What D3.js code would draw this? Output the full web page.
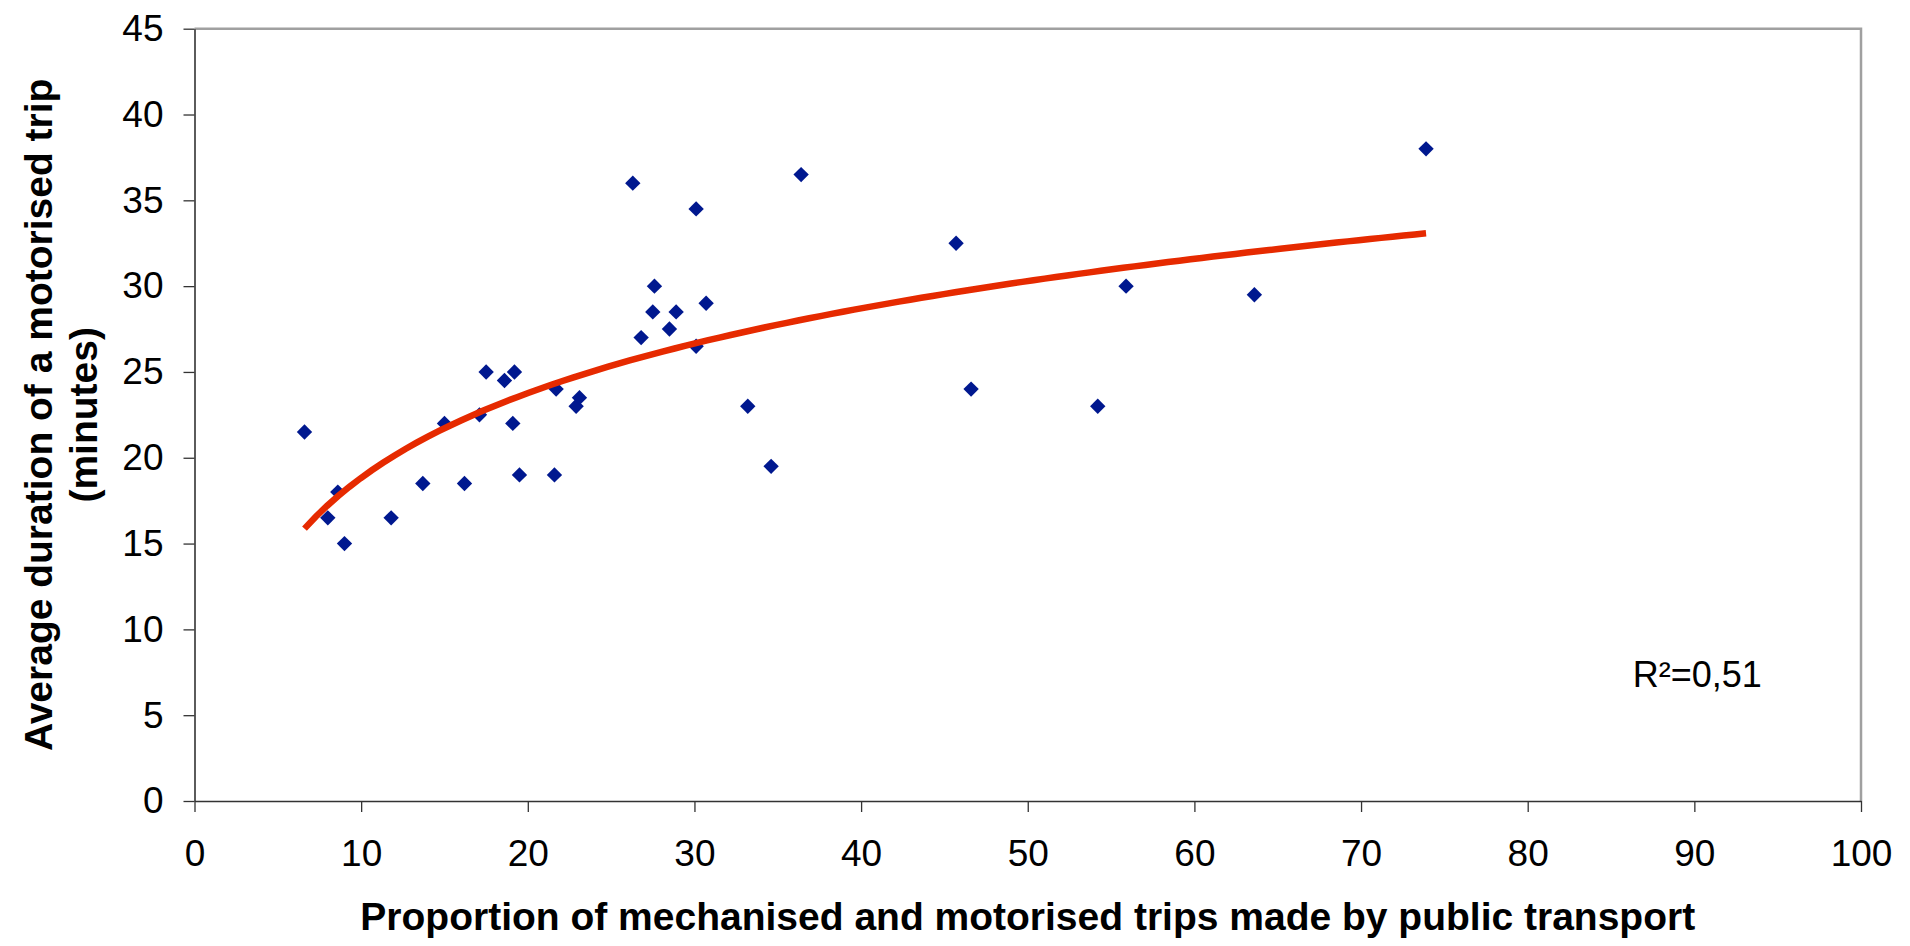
<!DOCTYPE html>
<html>
<head>
<meta charset="utf-8">
<script src="https://cdn.jsdelivr.net/npm/d3@7"></script>
<style>
  body { margin: 0; background: #fff; }
  svg text { font-family: "Liberation Sans", Arial, sans-serif; fill: #000; }
</style>
</head>
<body>
<div class="chart"></div>
<script>

// share of mechanised/motorised trips made by public transport (%)
var shareValues = [6.6, 8.0, 8.6, 9.0, 11.8, 13.7, 15.0, 16.2, 17.1, 17.5, 18.6, 19.1,
    19.2, 19.5, 21.6, 21.7, 22.9, 23.1, 26.3, 26.8, 27.5, 27.6, 28.5, 28.9,
    30.1, 30.1, 30.7, 33.2, 34.6, 36.4, 45.7, 46.6, 54.2, 55.9, 63.6, 73.9];
// average duration of a motorised trip (minutes)
var durationValues = [21.5, 16.5, 18, 15, 16.5, 18.5, 22, 18.5, 22.5, 25, 24.5, 22,
    25, 19, 19, 24, 23, 23.5, 36, 27, 28.5, 30, 27.5, 28.5,
    34.5, 26.5, 29, 23, 19.5, 36.5, 32.5, 24, 23, 30, 29.5, 38];

var xTicks = [0, 10, 20, 30, 40, 50, 60, 70, 80, 90, 100],
    yTicks = [0, 5, 10, 15, 20, 25, 30, 35, 40, 45];
var r2Label = "R²=0,51";

var width = 1910,
    height = 946,
    margins = { top: 28.7, right: 49, bottom: 145, left: 194.5 };

var xScale = d3.scaleLinear()
    .domain([0, 100])
    .range([margins.left, width - margins.right]);

var yScale = d3.scaleLinear()
    .domain([0, 45])
    .range([height - margins.bottom, margins.top]);

var svg = d3.select(".chart")
    .append("svg")
    .attr("width", width)
    .attr("height", height);

// grey frame on top and right
svg.append("path")
    .attr("d", "M" + xScale(0) + "," + yScale(45) + "H" + xScale(100) + "V" + yScale(0))
    .attr("fill", "none")
    .attr("stroke", "#a0a0a0")
    .attr("stroke-width", 2.5);

var yGuide = svg.append("g")
    .attr("transform", "translate(" + xScale(0) + ",0)")
    .call(d3.axisLeft(yScale).tickValues(yTicks).tickSize(11).tickPadding(20).tickSizeOuter(0));

var xGuide = svg.append("g")
    .attr("transform", "translate(0," + yScale(0) + ")")
    .call(d3.axisBottom(xScale).tickValues(xTicks).tickSize(11).tickPadding(28).tickSizeOuter(0));

[yGuide, xGuide].forEach(function (g) {
    g.select(".domain").attr("stroke", "#333").attr("stroke-width", 1.6);
    g.selectAll(".tick line").attr("stroke", "#333").attr("stroke-width", 1.3);
    g.selectAll(".tick text")
        .style("font-size", "37px")
        .attr("fill", "#000");
});

// logarithmic trend line, least squares fit of y on ln(x)
var n = shareValues.length,
    lx = shareValues.map(function (d) { return Math.log(d); }),
    mx = d3.mean(lx),
    my = d3.mean(durationValues),
    sxy = 0,
    sxx = 0;
for (var i = 0; i < n; i++) {
    sxy += (lx[i] - mx) * (durationValues[i] - my);
    sxx += (lx[i] - mx) * (lx[i] - mx);
}
var slope = sxy / sxx,
    intercept = my - slope * mx;

var xMin = d3.min(shareValues),
    xMax = d3.max(shareValues);
var trendXs = d3.range(0, 101).map(function (k) { return xMin + (xMax - xMin) * k / 100; });

var trendLine = d3.line()
    .x(function (d) { return xScale(d); })
    .y(function (d) { return yScale(slope * Math.log(d) + intercept); });

// points
svg.append("g")
    .selectAll("path")
    .data(shareValues)
    .enter()
    .append("path")
    .attr("d", d3.symbol().type(d3.symbolSquare).size(118))
    .attr("transform", function (d, i) {
        return "translate(" + xScale(d) + "," + yScale(durationValues[i]) + ") rotate(45)";
    })
    .style("fill", "#00188f");

svg.append("path")
    .datum(trendXs)
    .attr("d", trendLine)
    .attr("fill", "none")
    .attr("stroke", "#e62a00")
    .attr("stroke-width", 6.5);

svg.append("text")
    .attr("x", xScale(86.3))
    .attr("y", yScale(6.64))
    .style("font-size", "36px")
    .text(r2Label);

// axis titles
svg.append("text")
    .attr("x", (xScale(0) + xScale(100)) / 2)
    .attr("y", 930)
    .attr("text-anchor", "middle")
    .style("font-size", "39px")
    .style("font-weight", "bold")
    .text("Proportion of mechanised and motorised trips made by public transport");

var yTitle = svg.append("g")
    .attr("transform", "translate(0," + (yScale(0) + yScale(45)) / 2 + ") rotate(-90)")
    .attr("text-anchor", "middle")
    .style("font-size", "39px")
    .style("font-weight", "bold");
yTitle.append("text").attr("y", 52).text("Average duration of a motorised trip");
yTitle.append("text").attr("y", 97).text("(minutes)");

</script>
</body>
</html>
